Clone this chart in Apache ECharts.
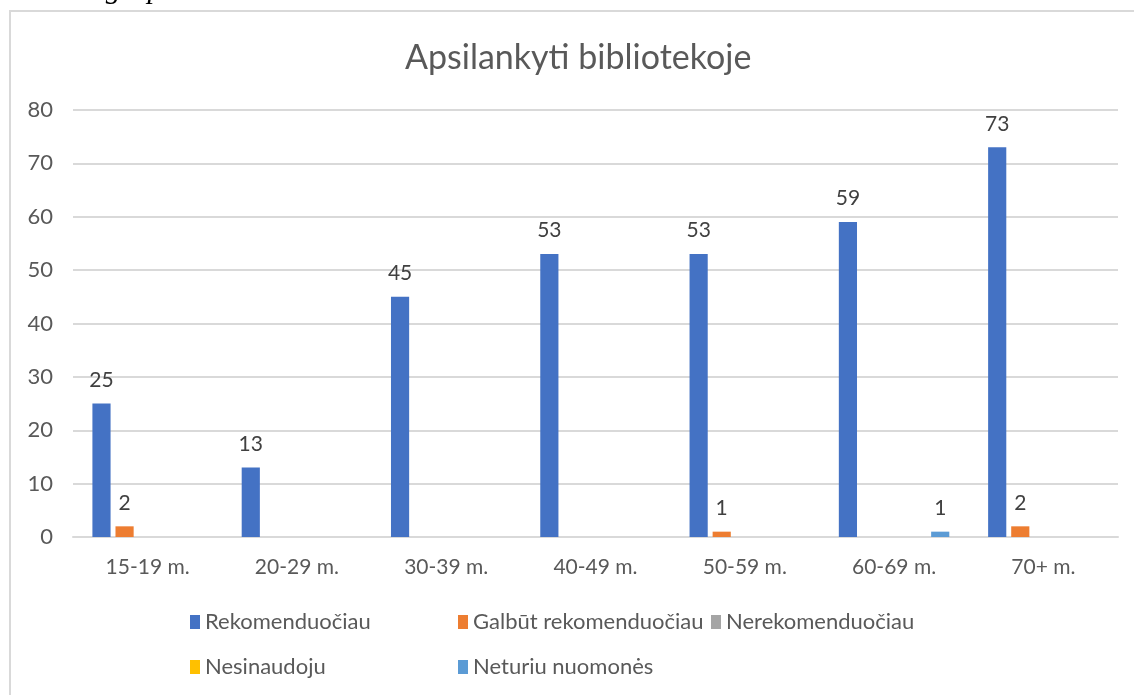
<!DOCTYPE html>
<html>
<head>
<meta charset="utf-8">
<script src="https://cdn.jsdelivr.net/npm/echarts@6/dist/echarts.min.js"></script>
<style>
  html, body { margin: 0; padding: 0; background: #fff; }
  #chart { width: 1134px; height: 695px; }
</style>
</head>
<body>
<div id="chart"></div>
<script>
// data
const categories = ['15-19 m.', '20-29 m.', '30-39 m.', '40-49 m.', '50-59 m.', '60-69 m.', '70+ m.']
const rekomenduociau = [25, 13, 45, 53, 53, 59, 73]
const galbut = [2, 0, 0, 0, 1, 0, 2]
const nerekomenduociau = [0, 0, 0, 0, 0, 0, 0]
const nesinaudoju = [0, 0, 0, 0, 0, 0, 0]
const neturiu = [0, 0, 0, 0, 0, 1, 0]
const yTicks = [0, 10, 20, 30, 40, 50, 60, 70, 80]

const FONT = 'Lato, "Open Sans", sans-serif'
const AXIS_TXT = '#595959'
const GRID_CLR = '#d9d9d9'

function bar(name, data, color) {
  return {
    name,
    type: 'bar',
    data,
    barGap: '27%',
    barCategoryGap: '26%',
    itemStyle: { color },
    label: {
      show: true,
      position: 'top',
      distance: 13,
      color: '#404040',
      fontFamily: FONT,
      fontSize: 21,
      formatter: p => (p.value ? String(p.value) : '')
    }
  }
}

const legendText = { color: AXIS_TXT, fontFamily: FONT, fontSize: 22 }
function legendCol(left, items) {
  return {
    left, top: 606,
    orient: 'vertical',
    data: items,
    icon: 'rect',
    itemWidth: 10,
    itemHeight: 14,
    itemGap: 23,
    textStyle: legendText,
    selectedMode: false
  }
}

const chart = echarts.init(document.getElementById('chart'))
chart.setOption({
  animation: false,
  backgroundColor: '#fff',
  title: {
    text: 'Apsilankyti bibliotekoje',
    left: 400, top: 36,
    textStyle: { color: AXIS_TXT, fontFamily: FONT, fontSize: 34, fontWeight: 'normal' }
  },
  legend: [
    legendCol(185, ['Rekomenduočiau', 'Nesinaudoju']),
    legendCol(453, ['Galbūt rekomenduočiau', 'Neturiu nuomonės']),
    legendCol(706, ['Nerekomenduočiau'])
  ],
  graphic: [
    {
      type: 'rect',
      shape: { x: 10, y: 11, width: 1300, height: 800 },
      style: { fill: 'none', stroke: GRID_CLR, lineWidth: 2 },
      silent: true
    },
    {
      type: 'text',
      left: 0, top: -25,
      style: { text: 'amžiaus grupes', fill: '#000', font: 'italic 30px "Liberation Serif", serif' },
      silent: true
    }
  ],
  grid: { left: 73, right: 16, top: 110, bottom: 158 },
  xAxis: {
    type: 'category',
    data: categories,
    axisTick: { show: false },
    axisLine: { lineStyle: { color: GRID_CLR, width: 2 } },
    axisLabel: { color: AXIS_TXT, fontFamily: FONT, fontSize: 21, margin: 20 }
  },
  yAxis: {
    type: 'value',
    min: yTicks[0],
    max: yTicks[yTicks.length - 1],
    interval: yTicks[1] - yTicks[0],
    axisLine: { show: false },
    axisTick: { show: false },
    axisLabel: { color: AXIS_TXT, fontFamily: FONT, fontSize: 22, margin: 20 },
    splitLine: { lineStyle: { color: GRID_CLR, width: 2 } }
  },
  series: [
    bar('Rekomenduočiau', rekomenduociau, '#4472C4'),
    bar('Galbūt rekomenduočiau', galbut, '#ED7D31'),
    bar('Nerekomenduočiau', nerekomenduociau, '#A5A5A5'),
    bar('Nesinaudoju', nesinaudoju, '#FFC000'),
    bar('Neturiu nuomonės', neturiu, '#5B9BD5')
  ]
})
</script>
</body>
</html>
